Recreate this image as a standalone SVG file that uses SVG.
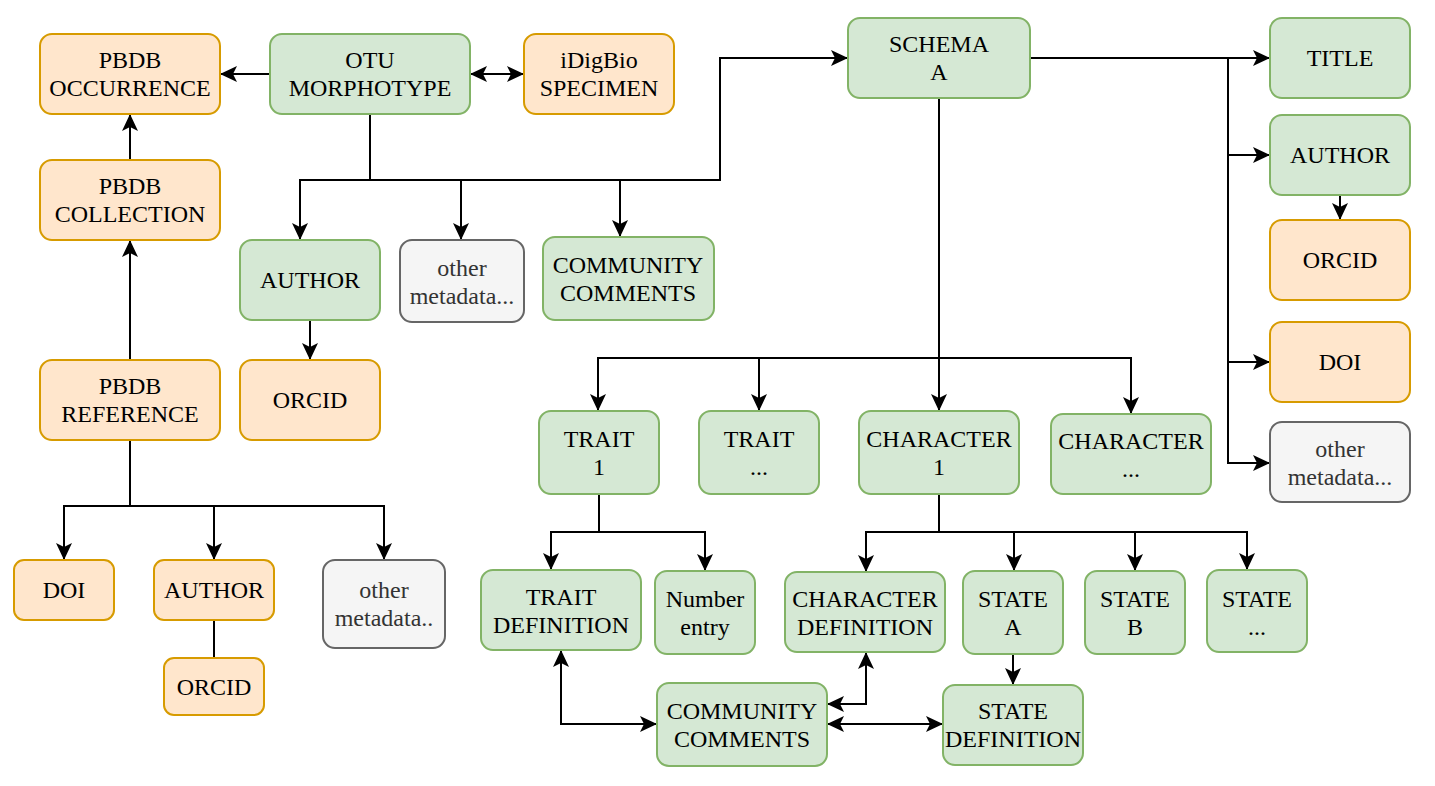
<svg xmlns="http://www.w3.org/2000/svg" width="1435" height="786" viewBox="0 0 1435 786">
<style>
.g rect{fill:#d5e8d4;stroke:#82b366;stroke-width:2}
.o rect{fill:#ffe6cc;stroke:#d79b00;stroke-width:2}
.y rect{fill:#f5f5f5;stroke:#666666;stroke-width:2}
text{font-family:"Liberation Serif","Times New Roman",serif;font-size:24px;fill:#000;text-anchor:middle}
.y text{fill:#333333}
#connectors path{fill:none;stroke:#000;stroke-width:2}
</style>
<defs>
<marker id="a" markerUnits="userSpaceOnUse" markerWidth="20" markerHeight="20" viewBox="0 0 20 20" refX="18" refY="10" orient="auto-start-reverse">
<path d="M1,2 L18,10 L1,18 L5,10 Z" fill="#000"/>
</marker>
</defs>
<rect width="1435" height="786" fill="#fff"/>
<g id="connectors">
<path d="M270,74 H220" marker-end="url(#a)"/>
<path d="M470,74 H524" marker-start="url(#a)" marker-end="url(#a)"/>
<path d="M130,160 V114" marker-end="url(#a)"/>
<path d="M130,360 V240" marker-end="url(#a)"/>
<path d="M370,114 V180 H300 V240" marker-end="url(#a)"/>
<path d="M370,180 H461 V240" marker-end="url(#a)"/>
<path d="M370,180 H620 V237" marker-end="url(#a)"/>
<path d="M620,180 H720 V58 H848" marker-end="url(#a)"/>
<path d="M310,320 V360" marker-end="url(#a)"/>
<path d="M130,440 V506 H64 V560" marker-end="url(#a)"/>
<path d="M130,506 H214 V560" marker-end="url(#a)"/>
<path d="M214,506 H384 V560" marker-end="url(#a)"/>
<path d="M214,620 V658"/>
<path d="M1030,58 H1270" marker-end="url(#a)"/>
<path d="M1228,58 V463 H1270" marker-end="url(#a)"/>
<path d="M1228,155 H1270" marker-end="url(#a)"/>
<path d="M1228,362 H1270" marker-end="url(#a)"/>
<path d="M1340,195 V220" marker-end="url(#a)"/>
<path d="M939,98 V358 H598 V411" marker-end="url(#a)"/>
<path d="M939,358 H1131 V414" marker-end="url(#a)"/>
<path d="M759,358 V411" marker-end="url(#a)"/>
<path d="M939,358 V411" marker-end="url(#a)"/>
<path d="M599,494 V532 H551 V570" marker-end="url(#a)"/>
<path d="M599,532 H705 V571" marker-end="url(#a)"/>
<path d="M939,494 V532 H866 V572" marker-end="url(#a)"/>
<path d="M939,532 H1247 V570" marker-end="url(#a)"/>
<path d="M1014,532 V571" marker-end="url(#a)"/>
<path d="M1135,532 V571" marker-end="url(#a)"/>
<path d="M1013,654 V685" marker-end="url(#a)"/>
<path d="M561,650 V724 H657" marker-start="url(#a)" marker-end="url(#a)"/>
<path d="M866,652 V704 H827" marker-start="url(#a)" marker-end="url(#a)"/>
<path d="M827,724 H943" marker-start="url(#a)" marker-end="url(#a)"/>
</g>
<g id="pbdb-occurrence" class="o"><rect x="40" y="34" width="180" height="80" rx="12"/><text x="130" y="68">PBDB</text><text x="130" y="96">OCCURRENCE</text></g>
<g id="otu-morphotype" class="g"><rect x="270" y="34" width="200" height="80" rx="12"/><text x="370" y="68">OTU</text><text x="370" y="96">MORPHOTYPE</text></g>
<g id="idigbio-specimen" class="o"><rect x="524" y="34" width="150" height="80" rx="12"/><text x="599" y="68">iDigBio</text><text x="599" y="96">SPECIMEN</text></g>
<g id="pbdb-collection" class="o"><rect x="40" y="160" width="180" height="80" rx="12"/><text x="130" y="194">PBDB</text><text x="130" y="222">COLLECTION</text></g>
<g id="pbdb-reference" class="o"><rect x="40" y="360" width="180" height="80" rx="12"/><text x="130" y="394">PBDB</text><text x="130" y="422">REFERENCE</text></g>
<g id="otu-author" class="g"><rect x="240" y="240" width="140" height="80" rx="12"/><text x="310" y="288">AUTHOR</text></g>
<g id="otu-other" class="y"><rect x="400" y="240" width="124" height="82" rx="12"/><text x="462" y="276">other</text><text x="462" y="304">metadata...</text></g>
<g id="otu-community" class="g"><rect x="543" y="237" width="171" height="83" rx="12"/><text x="628" y="273">COMMUNITY</text><text x="628" y="301">COMMENTS</text></g>
<g id="otu-orcid" class="o"><rect x="240" y="360" width="140" height="80" rx="12"/><text x="310" y="408">ORCID</text></g>
<g id="ref-doi" class="o"><rect x="14" y="560" width="100" height="60" rx="10"/><text x="64" y="598">DOI</text></g>
<g id="ref-author" class="o"><rect x="154" y="560" width="120" height="60" rx="10"/><text x="214" y="598">AUTHOR</text></g>
<g id="ref-other" class="y"><rect x="323" y="560" width="122" height="88" rx="12"/><text x="384" y="598">other</text><text x="384" y="626">metadata..</text></g>
<g id="ref-orcid" class="o"><rect x="164" y="658" width="100" height="57" rx="10"/><text x="214" y="695">ORCID</text></g>
<g id="schema-a" class="g"><rect x="848" y="18" width="182" height="80" rx="12"/><text x="939" y="52">SCHEMA</text><text x="939" y="80">A</text></g>
<g id="schema-title" class="g"><rect x="1270" y="18" width="140" height="80" rx="12"/><text x="1340" y="66">TITLE</text></g>
<g id="schema-author" class="g"><rect x="1270" y="115" width="140" height="80" rx="12"/><text x="1340" y="163">AUTHOR</text></g>
<g id="schema-orcid" class="o"><rect x="1270" y="220" width="140" height="80" rx="12"/><text x="1340" y="268">ORCID</text></g>
<g id="schema-doi" class="o"><rect x="1270" y="322" width="140" height="80" rx="12"/><text x="1340" y="370">DOI</text></g>
<g id="schema-other" class="y"><rect x="1270" y="422" width="140" height="80" rx="12"/><text x="1340" y="457">other</text><text x="1340" y="485">metadata...</text></g>
<g id="trait-1" class="g"><rect x="539" y="411" width="120" height="83" rx="12"/><text x="599" y="447">TRAIT</text><text x="599" y="475">1</text></g>
<g id="trait-n" class="g"><rect x="699" y="411" width="120" height="83" rx="12"/><text x="759" y="447">TRAIT</text><text x="759" y="475">...</text></g>
<g id="character-1" class="g"><rect x="859" y="411" width="160" height="83" rx="12"/><text x="939" y="447">CHARACTER</text><text x="939" y="475">1</text></g>
<g id="character-n" class="g"><rect x="1051" y="414" width="160" height="80" rx="12"/><text x="1131" y="449">CHARACTER</text><text x="1131" y="477">...</text></g>
<g id="trait-definition" class="g"><rect x="481" y="570" width="160" height="80" rx="12"/><text x="561" y="605">TRAIT</text><text x="561" y="633">DEFINITION</text></g>
<g id="number-entry" class="g"><rect x="655" y="571" width="100" height="83" rx="12"/><text x="705" y="607">Number</text><text x="705" y="635">entry</text></g>
<g id="character-definition" class="g"><rect x="785" y="572" width="160" height="80" rx="12"/><text x="865" y="607">CHARACTER</text><text x="865" y="635">DEFINITION</text></g>
<g id="state-a" class="g"><rect x="963" y="571" width="100" height="83" rx="12"/><text x="1013" y="607">STATE</text><text x="1013" y="635">A</text></g>
<g id="state-b" class="g"><rect x="1085" y="571" width="100" height="83" rx="12"/><text x="1135" y="607">STATE</text><text x="1135" y="635">B</text></g>
<g id="state-n" class="g"><rect x="1207" y="570" width="100" height="82" rx="12"/><text x="1257" y="607">STATE</text><text x="1257" y="635">...</text></g>
<g id="community-comments" class="g"><rect x="657" y="683" width="170" height="83" rx="12"/><text x="742" y="719">COMMUNITY</text><text x="742" y="747">COMMENTS</text></g>
<g id="state-definition" class="g"><rect x="943" y="685" width="140" height="80" rx="12"/><text x="1013" y="719">STATE</text><text x="1013" y="747">DEFINITION</text></g>
</svg>
